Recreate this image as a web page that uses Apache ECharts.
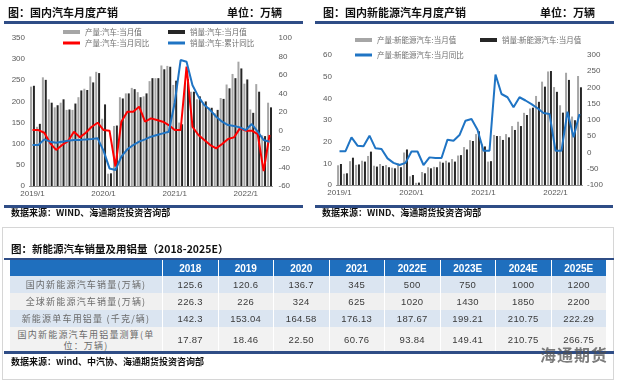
<!DOCTYPE html>
<html><head><meta charset="utf-8">
<script src="https://cdn.jsdelivr.net/npm/echarts@6/dist/echarts.min.js"></script>
<style>
html,body{margin:0;padding:0;background:#fff;width:620px;height:382px;overflow:hidden;font-family:"Noto Sans CJK SC","Noto Sans",Arial,sans-serif;}
#chart{position:absolute;left:0;top:0;width:620px;height:222px;}
.abs{position:absolute;white-space:nowrap;}
.ttl{font-weight:bold;font-size:11px;color:#111;line-height:12px;}
.src{font-weight:bold;font-size:9px;color:#111;line-height:10px;}
.rule{position:absolute;background:#2F4D86;}
.cell{position:absolute;box-sizing:border-box;display:flex;align-items:center;justify-content:center;text-align:center;}
</style></head>
<body>
<div id="chart"></div>
<div id="overlay"></div>
<script>
// ---- data ----
const months = ['2019/1','2019/2','2019/3','2019/4','2019/5','2019/6','2019/7','2019/8','2019/9','2019/10','2019/11','2019/12',
'2020/1','2020/2','2020/3','2020/4','2020/5','2020/6','2020/7','2020/8','2020/9','2020/10','2020/11','2020/12',
'2021/1','2021/2','2021/3','2021/4','2021/5','2021/6','2021/7','2021/8','2021/9','2021/10','2021/11','2021/12',
'2022/1','2022/2','2022/3','2022/4','2022/5'];
const autoProd = [235,140,257,205,186,197,180,180,210,230,259,270,159,29,142,210,219,232,222,212,248,255,285,284,239,150,244,223,205,194,186,172,208,240,265,294,242,181,241,120,197];
const autoSales = [237,147,251,197,191,205,181,195,226,227,245,267,193,30,143,207,219,229,210,219,255,255,276,282,249,146,253,223,212,200,185,180,206,231,255,278,252,173,223,118,186];
const autoProdYoY = [0.5,0.5,-2.4,-13.9,-21,-15.7,-11.4,-1.3,-7.4,-2.4,4.1,8.4,0.5,-0.2,-39,9.5,20.3,20.3,25.7,9.5,13.1,11.3,9.5,5.9,0.5,0.5,69,4.1,-4.9,-10.3,-15.7,-19.3,-14.6,-9.2,-7.4,2.3,-0.2,-0.2,-3.8,-44,-4.9];
const autoSalesCumYoY = [-15.7,-15.7,-9.6,-12.1,-13.2,-12.1,-11,-10.3,-10.3,-9.6,-9.2,-8.5,-22,-41,-42.7,-28.3,-20.4,-15.7,-12.1,-9.6,-6.7,-4.9,-3.1,-1.3,30,76.2,74.4,49,36.6,27.5,22.1,14.9,9.5,5.9,4.8,3.4,0.5,7,-1.3,-10.3,-12.1];
const nevProd = [9.1,5.2,11.0,9.3,11.2,13.4,8.9,9.7,9.2,8.0,10.0,15.0,4.0,1.0,6.0,8.2,8.4,10.8,11.2,12.0,13.6,17.5,20.7,23.5,19.0,10.8,23.1,22.6,23.5,27.2,29.2,33.3,35.3,41.1,47.7,52.4,45.2,36.8,51.8,31.6,50.3];
const nevSales = [9.7,5.4,12.6,9.5,10.8,15.4,8.5,8.8,8.2,7.7,8.2,16.4,4.6,1.1,5.4,7.7,8.2,10.3,10.4,10.8,13.8,16.4,20.3,24.8,17.8,11.0,22.6,20.8,22.0,25.4,27.2,32.3,35.7,38.4,45.4,52.6,43.0,33.4,48.5,29.9,45.1];
const nevProdYoY = [4,4,46.7,21,19,51.8,12.8,10.8,-18,-32,-38.5,-32,3,3,-38.5,-15,-17,-17,39.5,36.4,53.8,97.9,103,70.3,5.6,5.6,240,180,170,139,170,160,149,136,121.7,118.6,5.6,5.6,125.8,46.7,118.6];

const tableYears = ['2018','2019','2020','2021','2022E','2023E','2024E','2025E'];
const rowLabels = ['国内新能源汽车销量(万辆)','全球新能源汽车销量(万辆)','新能源单车用铝量 (千克/辆)','国内新能源汽车用铝量测算(单<br>位：万辆)'];
const rowDomesticSales = ['125.6','120.6','136.7','345','500','750','1000','1200'];
const rowGlobalSales = ['226.3','226','324','625','1020','1430','1850','2200'];
const rowAlPerCar = ['142.3','153.04','164.58','176.13','187.67','199.21','210.75','222.29'];
const rowAlTotal = ['17.87','18.46','22.50','60.76','93.84','149.41','210.75','266.75'];

// ---- chart ----
const FONT = '"Noto Sans CJK SC", sans-serif';
const legTxt = {color:'#6f6f6f', fontSize:7.5, fontFamily:FONT, lineHeight:10};
function leg(name, left, top, h){
  return {data:[name], left:left, top:top, padding:0, itemGap:0, itemWidth:17, itemHeight:h, icon:'rect', textStyle:legTxt, selectedMode:false};
}
const axLbl = {fontSize:8, color:'#595959', fontFamily:'Arial, "Liberation Sans", sans-serif'};
function xa(gi){
  return {type:'category', gridIndex:gi, data:months, boundaryGap:true,
    axisLine:{lineStyle:{color:'#8c8c8c', width:1}}, axisTick:{show:false},
    axisLabel:Object.assign({interval:11, margin:4}, axLbl), splitLine:{show:false}};
}
function ya(gi, pos, min, max, iv, margin){
  return {type:'value', gridIndex:gi, position:pos, min:min, max:max, interval:iv,
    axisLine:{show:false}, axisTick:{show:false}, splitLine:{show:false},
    axisLabel:Object.assign({margin:margin}, axLbl)};
}
const chart = echarts.init(document.getElementById('chart'), null, {renderer:'canvas'});
chart.setOption({
  animation:false,
  grid:[{left:29.5, top:38, width:243, height:148},{left:336.5, top:55, width:246, height:130}],
  xAxis:[xa(0), xa(1)],
  yAxis:[ya(0,'left',0,350,50,4.5), ya(0,'right',-60,100,20,6), ya(1,'left',0,60,10,4.5), ya(1,'right',-100,300,50,4.5)],
  legend:[
    leg('产量:汽车:当月值',63,27,4), leg('销量:汽车:当月值',168,27,4),
    leg('产量:汽车:当月同比',63,38,3), leg('销量:汽车:累计同比',168,38,3),
    leg('产量:新能源汽车:当月值',355,35,4), leg('销量:新能源汽车:当月值',480,35,4),
    leg('产量:新能源汽车:当月同比',355,50,3)
  ],
  series:[
    {name:'产量:汽车:当月值', type:'bar', xAxisIndex:0, yAxisIndex:0, data:autoProd, barWidth:2, barGap:'45%', itemStyle:{color:'#a6a6a6'}},
    {name:'销量:汽车:当月值', type:'bar', xAxisIndex:0, yAxisIndex:0, data:autoSales, barWidth:2, barGap:'45%', itemStyle:{color:'#262626'}},
    {name:'产量:汽车:当月同比', type:'line', xAxisIndex:0, yAxisIndex:1, data:autoProdYoY, symbol:'none', lineStyle:{color:'#ff0000', width:2}, itemStyle:{color:'#ff0000'}},
    {name:'销量:汽车:累计同比', type:'line', xAxisIndex:0, yAxisIndex:1, data:autoSalesCumYoY, symbol:'none', lineStyle:{color:'#1f74c4', width:2}, itemStyle:{color:'#1f74c4'}},
    {name:'产量:新能源汽车:当月值', type:'bar', xAxisIndex:1, yAxisIndex:2, data:nevProd, barWidth:2, barGap:'45%', itemStyle:{color:'#a6a6a6'}},
    {name:'销量:新能源汽车:当月值', type:'bar', xAxisIndex:1, yAxisIndex:2, data:nevSales, barWidth:2, barGap:'45%', itemStyle:{color:'#262626'}},
    {name:'产量:新能源汽车:当月同比', type:'line', xAxisIndex:1, yAxisIndex:3, data:nevProdYoY, symbol:'none', lineStyle:{color:'#1f74c4', width:2}, itemStyle:{color:'#1f74c4'}}
  ]
});

// ---- overlay text, rules and table ----
const ov = document.getElementById('overlay');
function add(html, style, cls){
  const d = document.createElement('div');
  d.className = cls || 'abs';
  d.innerHTML = html;
  Object.assign(d.style, style);
  ov.appendChild(d);
  return d;
}
// top left panel
add('图：国内汽车月度产销', {left:'8px', top:'6px'}, 'abs ttl');
add('单位：万辆', {left:'227px', top:'6px'}, 'abs ttl');
add('', {left:'4px', top:'21px', width:'299px', height:'3px'}, 'rule');
add('', {left:'4px', top:'205px', width:'299px', height:'3px'}, 'rule');
add('数据来源：WIND、海通期货投资咨询部', {left:'11px', top:'208px'}, 'abs src');
// top right panel
add('图：国内新能源汽车月度产销', {left:'323px', top:'6px'}, 'abs ttl');
add('单位：万辆', {left:'540px', top:'6px'}, 'abs ttl');
add('', {left:'315px', top:'21px', width:'299px', height:'3px'}, 'rule');
add('', {left:'315px', top:'205px', width:'298px', height:'3px'}, 'rule');
add('数据来源：WIND、海通期货投资咨询部', {left:'322px', top:'208px'}, 'abs src');

// table panel frame
add('', {left:'2px', top:'227px', width:'612px', height:'153px', border:'1px solid #d6d6d6', boxSizing:'border-box'}, 'abs');
add('图：新能源汽车销量及用铝量（2018-2025E）', {left:'11px', top:'243px', fontSize:'10.5px'}, 'abs ttl');
add('', {left:'4px', top:'258px', width:'610px', height:'2px'}, 'rule');

const colX = [10,162,217.5,273,328.5,384,439.5,495,550.5,606];
const rowY = [260,276,293,310,327,352];
const bodyRows = [rowDomesticSales, rowGlobalSales, rowAlPerCar, rowAlTotal];
const rowBg = ['#dbe5f1','#f0f0f0','#dbe5f1','#f2f2f2'];
// header
for(let c=0;c<9;c++){
  const txt = c===0 ? '' : tableYears[c-1];
  add(txt, {left:colX[c]+'px', top:rowY[0]+'px', width:(colX[c+1]-colX[c])+'px', height:(rowY[1]-rowY[0])+'px',
    background:'#1f6fbe', color:'#fff', fontWeight:'bold', fontSize:'10px', fontFamily:'Arial,"Liberation Sans",sans-serif',
    borderLeft: c===0?'none':'1.5px solid #fff'}, 'cell');
}
for(let r=0;r<4;r++){
  for(let c=0;c<9;c++){
    const isLbl = c===0;
    const txt = isLbl ? rowLabels[r] : bodyRows[r][c-1];
    add(txt, {left:colX[c]+'px', top:rowY[r+1]+'px', width:(colX[c+1]-colX[c])+'px', height:(rowY[r+2]-rowY[r+1])+'px',
      background:rowBg[r], color: isLbl?'#6a6a6a':'#3a3a3a',
      fontSize: isLbl?'9px':'9.5px', letterSpacing: isLbl?'1.2px':'0.3px', lineHeight:'11px',
      fontFamily: isLbl? FONT.replace(/"/g,'') : 'Arial,"Liberation Sans",sans-serif',
      borderLeft: c===0?'none':'1.5px solid #fff'}, 'cell');
  }
}
add('', {left:'4px', top:'351px', width:'610px', height:'3px'}, 'rule');
add('数据来源：wind、中汽协、海通期货投资咨询部', {left:'11px', top:'357px'}, 'abs src');
add('海通期货', {left:'540px', top:'342px', fontSize:'16px', color:'rgba(80,80,80,0.75)', fontWeight:'bold', letterSpacing:'1px'}, 'abs');
</script>
</body></html>
